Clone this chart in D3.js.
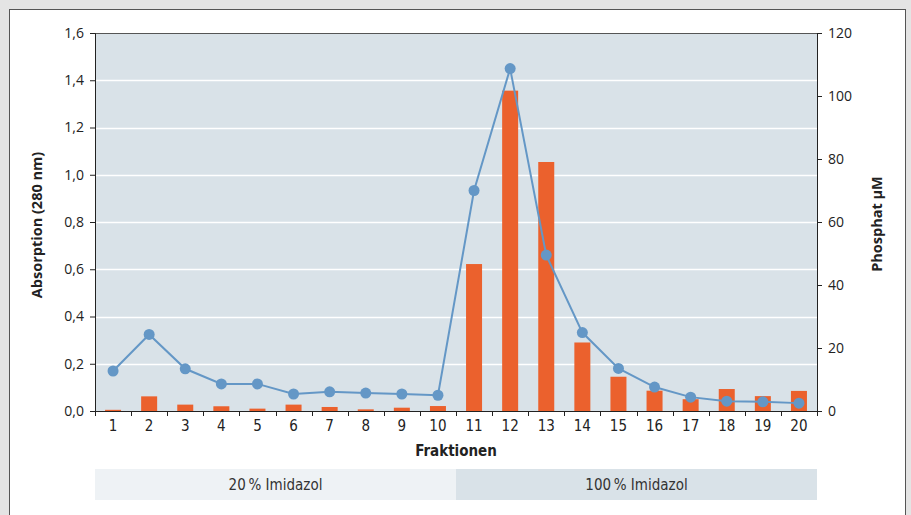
<!DOCTYPE html>
<html><head><meta charset="utf-8">
<script src="https://cdn.jsdelivr.net/npm/d3@7"></script>
<style>
html,body{margin:0;padding:0;background:#e4e4e4;}
svg{display:block;}
</style></head>
<body>
<svg id="chart" width="911" height="515"></svg>
<script>
const categories = ["1","2","3","4","5","6","7","8","9","10","11","12","13","14","15","16","17","18","19","20"];
const absorption = [0.005,0.062,0.027,0.02,0.01,0.027,0.017,0.007,0.014,0.021,0.622,1.356,1.054,0.29,0.145,0.086,0.05,0.093,0.063,0.085];
const phosphat = [12.7,24.3,13.4,8.6,8.6,5.4,6.1,5.7,5.4,5.0,70.0,108.7,49.5,24.9,13.5,7.6,4.4,3.1,2.9,2.5];
const leftTicks = [0,0.2,0.4,0.6,0.8,1.0,1.2,1.4,1.6];
const rightTicks = [0,20,40,60,80,100,120];
const bands = [{label:"20\u2009% Imidazol", from:0, to:10}, {label:"100\u2009% Imidazol", from:10, to:20}];

const svg = d3.select("#chart");
const m = {l:95, r:817, t:33, b:411};
const condensed = "'Liberation Sans Narrow','Arial Narrow','DejaVu Sans Condensed',sans-serif";
const normalF = "'Open Sans','Noto Sans',sans-serif";

svg.append("rect").attr("x",9.5).attr("y",9.5).attr("width",896).attr("height",520)
  .attr("fill","#fff").attr("stroke","#555").attr("stroke-width",1);

const x = d3.scaleBand().domain(categories).range([m.l,m.r]).paddingInner(0).paddingOuter(0);
const yL = d3.scaleLinear().domain([0,1.6]).range([m.b,m.t]);
const yR = d3.scaleLinear().domain([0,120]).range([m.b,m.t]);

svg.append("rect").attr("x",m.l).attr("y",m.t).attr("width",m.r-m.l).attr("height",m.b-m.t).attr("fill","#d9e2e8");
svg.append("g").selectAll("line").data(leftTicks.slice(1,-1)).join("line")
  .attr("x1",m.l).attr("x2",m.r).attr("y1",d=>Math.round(yL(d))+0.5).attr("y2",d=>Math.round(yL(d))+0.5)
  .attr("stroke","#fff").attr("stroke-width",1.5);

const bw = 16;
svg.append("g").selectAll("rect").data(absorption).join("rect")
  .attr("x",(d,i)=>x(categories[i])+x.bandwidth()/2-bw/2)
  .attr("width",bw)
  .attr("y",d=>yL(d)).attr("height",d=>m.b-yL(d))
  .attr("fill","#eb612d");

const line = d3.line().x((d,i)=>x(categories[i])+x.bandwidth()/2).y(d=>yR(d));
svg.append("path").datum(phosphat).attr("d",line).attr("fill","none").attr("stroke","#6497c6").attr("stroke-width",2);
svg.append("g").selectAll("circle").data(phosphat).join("circle")
  .attr("cx",(d,i)=>x(categories[i])+x.bandwidth()/2).attr("cy",d=>yR(d)).attr("r",5.5).attr("fill","#6497c6");

svg.append("line").attr("x1",m.l).attr("x2",m.r).attr("y1",m.t+0.5).attr("y2",m.t+0.5).attr("stroke","#555").attr("stroke-width",1);

const fmt = d=>d3.format(".1f")(d).replace(".",",");
const axL = svg.append("g").attr("transform",`translate(${m.l},0)`)
  .call(d3.axisLeft(yL).tickValues(leftTicks).tickFormat(fmt).tickSize(5).tickPadding(6));
const axR = svg.append("g").attr("transform",`translate(${m.r},0)`)
  .call(d3.axisRight(yR).tickValues(rightTicks).tickSize(5).tickPadding(6));
[axL,axR].forEach(a=>{
  a.select(".domain").attr("stroke","#222");
  a.selectAll(".tick line").attr("stroke","#222");
  a.selectAll("text").attr("font-family",normalF).attr("font-size",14).attr("fill","#222");
});
const axB = svg.append("g").attr("transform",`translate(0,${m.b})`)
  .call(d3.axisBottom(x).tickSize(0).tickPadding(9));
axB.select(".domain").attr("stroke","#222");
axB.selectAll("text").attr("font-family",condensed).attr("font-size",15).attr("fill","#222");
const bounds = categories.map(c=>x(c)).concat([m.r]);
svg.append("g").selectAll("line").data(bounds).join("line")
  .attr("x1",d=>Math.round(d)+0.5).attr("x2",d=>Math.round(d)+0.5).attr("y1",m.b).attr("y2",m.b+5).attr("stroke","#222");

svg.append("text").attr("transform",`translate(42,${(m.t+m.b)/2+3}) rotate(-90)`).attr("text-anchor","middle")
  .attr("font-family",normalF).attr("font-weight","bold").attr("font-size",14.5).attr("fill","#222").text("Absorption (280 nm)");
svg.append("text").attr("transform",`translate(882,${(m.t+m.b)/2+2}) rotate(-90)`).attr("text-anchor","middle")
  .attr("font-family",normalF).attr("font-weight","bold").attr("font-size",14.5).attr("fill","#222").text("Phosphat \u00b5M");
svg.append("text").attr("x",(m.l+m.r)/2).attr("y",456).attr("text-anchor","middle")
  .attr("font-family",condensed).attr("font-weight","bold").attr("font-size",15).attr("fill","#222").text("Fraktionen");

const bx = d3.scaleLinear().domain([0,20]).range([m.l,m.r]);
const bandG = svg.append("g");
bandG.selectAll("rect").data(bands).join("rect")
  .attr("x",d=>bx(d.from)).attr("width",d=>bx(d.to)-bx(d.from)).attr("y",469).attr("height",31)
  .attr("fill",(d,i)=>i===0?"#eef2f5":"#d9e2e8");
bandG.selectAll("text").data(bands).join("text")
  .attr("x",d=>(bx(d.from)+bx(d.to))/2).attr("y",490).attr("text-anchor","middle")
  .attr("font-family",condensed).attr("font-size",15).attr("fill","#333").text(d=>d.label);
</script>
</body></html>
